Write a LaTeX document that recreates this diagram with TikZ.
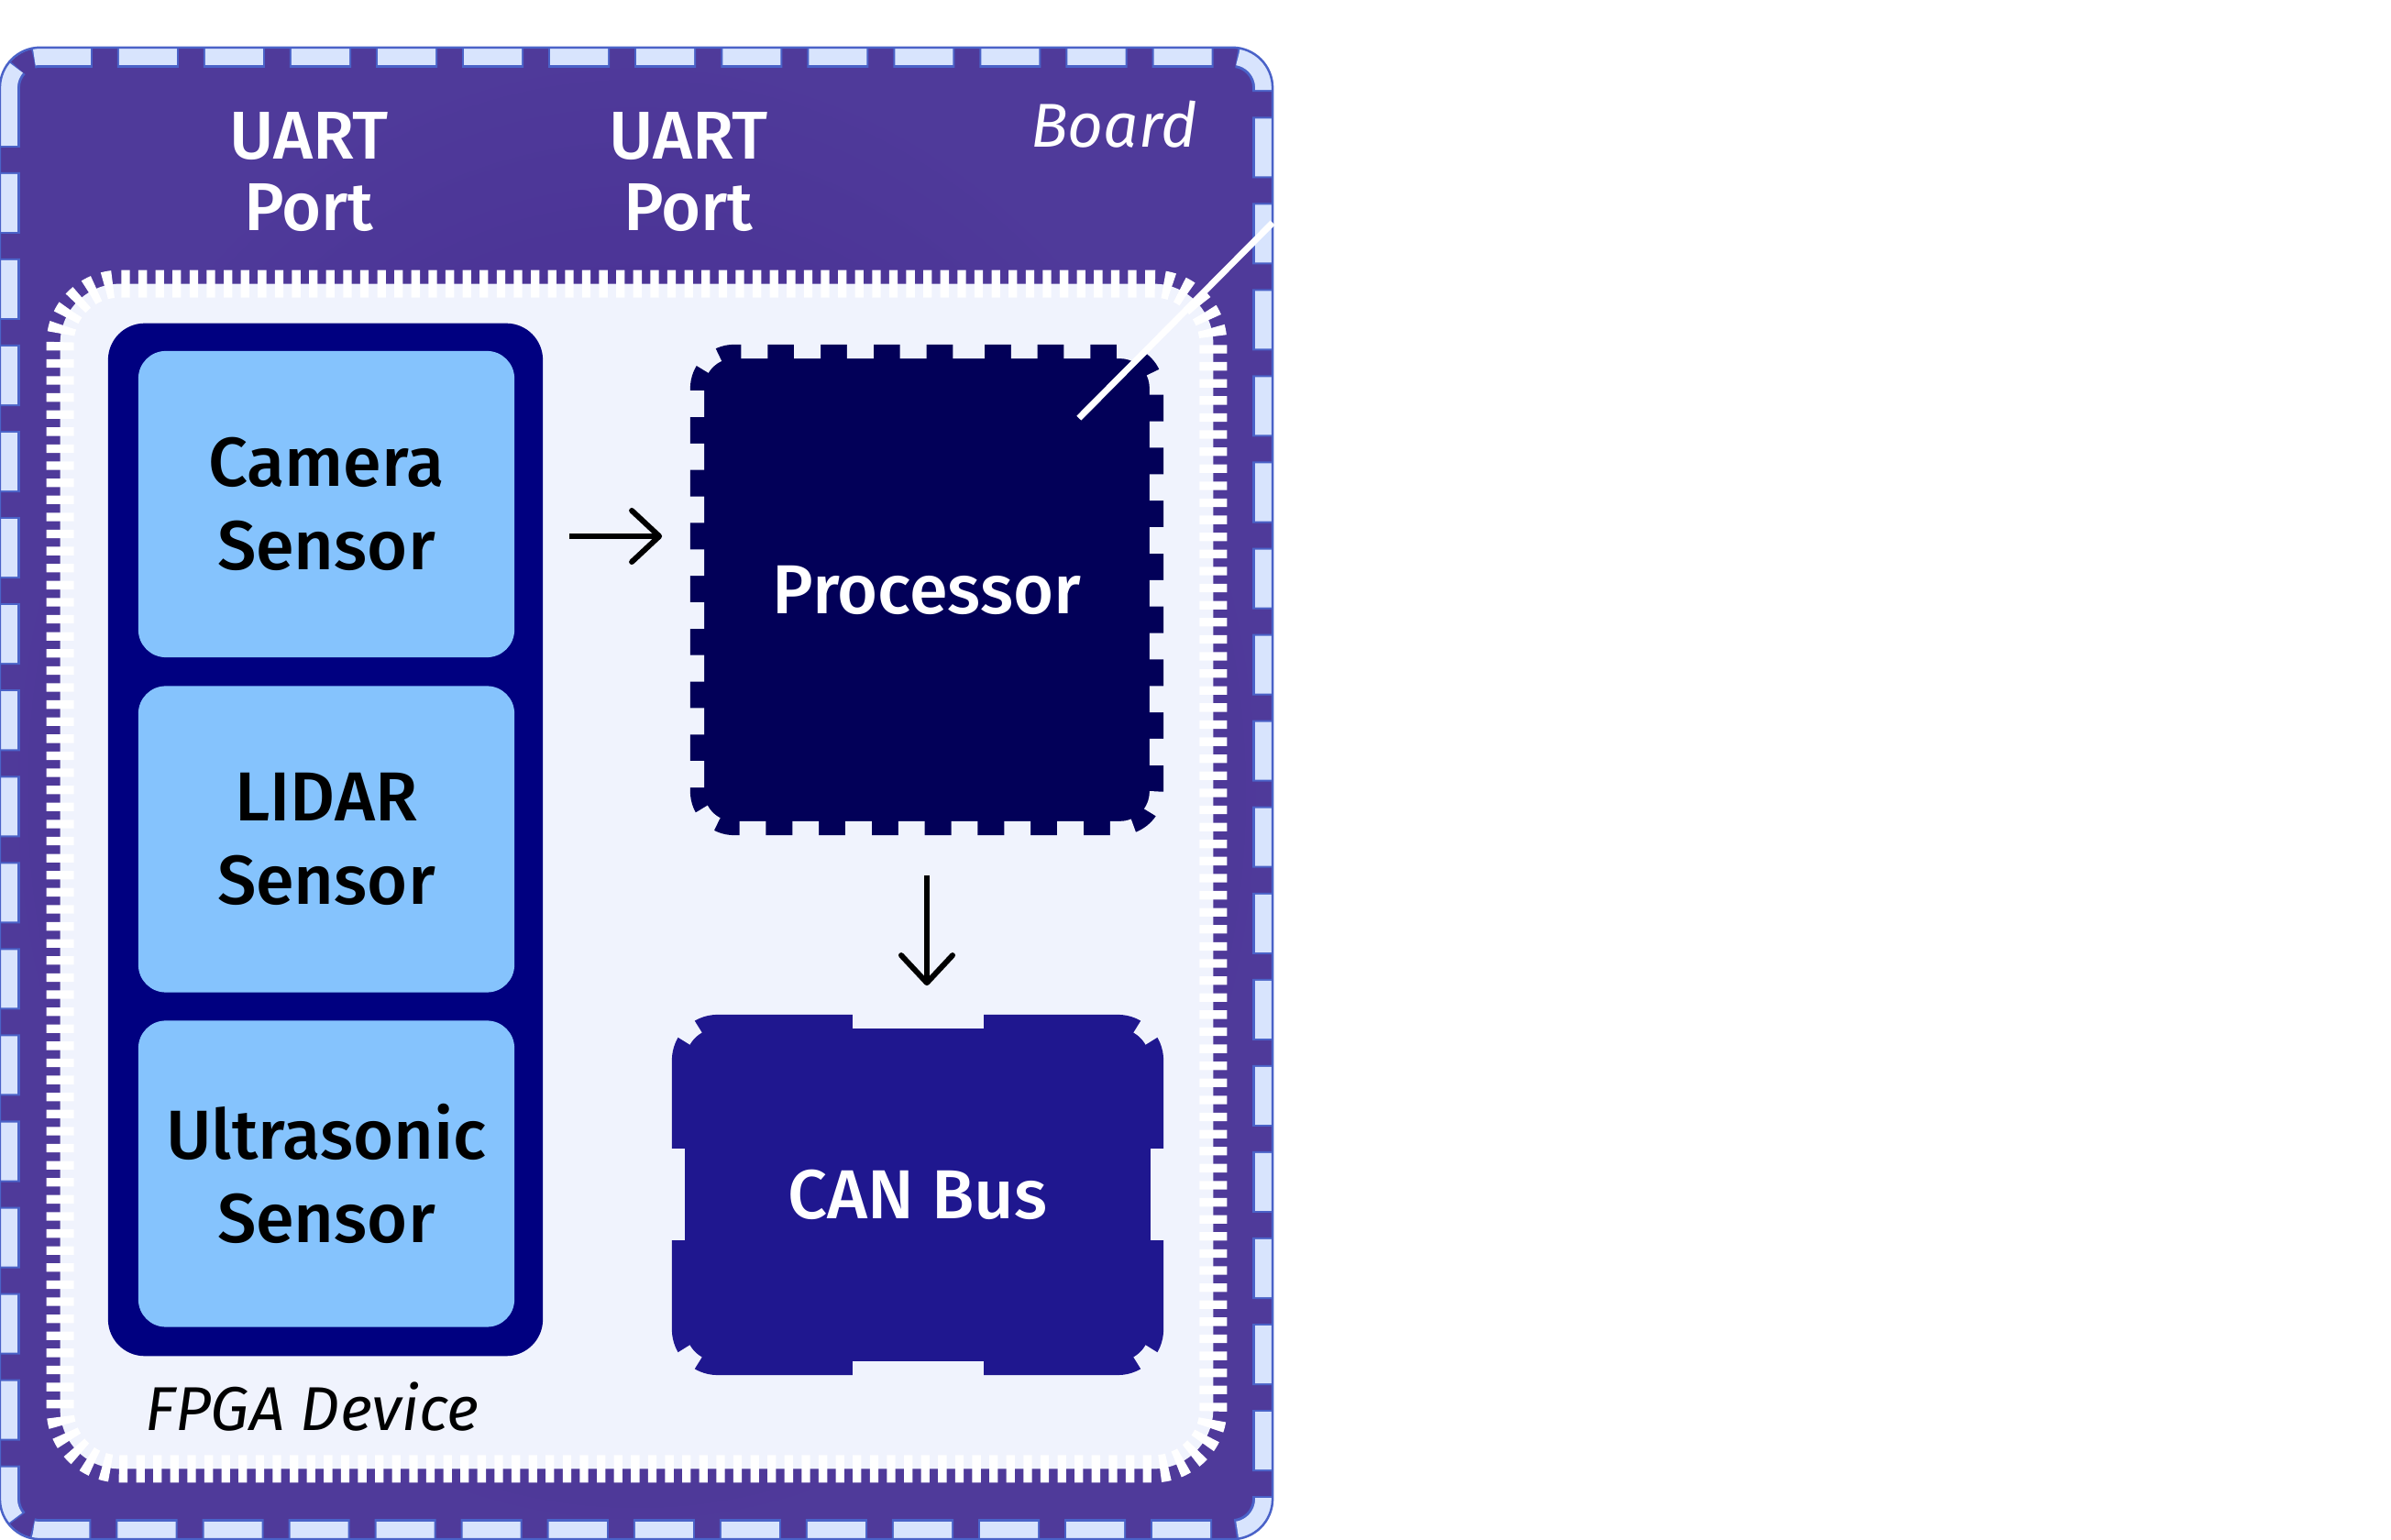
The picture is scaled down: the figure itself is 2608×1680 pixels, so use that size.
\documentclass[tikz,border=0pt]{standalone}
\usepackage{fontspec}
\setmainfont{Fira Sans}
\IfFontExistsTF{Fira Sans Medium}{\newfontfamily\labelface{Fira Sans Medium}}{\newcommand\labelface{\bfseries}}
\usepackage{tikz}
\usetikzlibrary{arrows.meta,calc}
\definecolor{boardin}{HTML}{43278E}
\definecolor{boardout}{HTML}{4F3A9A}
\definecolor{tabfill}{HTML}{D8E4FD}
\definecolor{tabedge}{HTML}{4A62C8}
\definecolor{fpgabg}{HTML}{F0F3FD}
\definecolor{grpfill}{HTML}{000080}
\definecolor{skyfill}{HTML}{85C3FD}
\definecolor{procfill}{HTML}{020058}
\definecolor{canfill}{HTML}{1F178F}

\tikzset{
  sensorbox/.style={fill=skyfill,rounded corners=0.3cm,minimum width=4.1cm,minimum height=3.34cm,
    inner sep=0pt,align=center,font=\labelface\fontsize{21.5}{25.8}\selectfont},
  darkbox/.style={rounded corners=0.48cm,inner sep=0pt,text=white,
    font=\labelface\fontsize{21.5}{25.8}\selectfont},
  portlbl/.style={text=white,align=center,font=\labelface\fontsize{21}{22.2}\selectfont},
  tag/.style={font=\itshape\fontsize{19.2}{23}\selectfont},
  notch/.style={draw=fpgabg,line width=0.32cm},
  flow/.style={-{Straight Barb[length=0.3cm,width=0.56cm,round]},line width=0.06cm}
}

\begin{document}
\begin{tikzpicture}[x=0.01cm,y=-0.01cm]
\useasboundingbox (0,0) rectangle (2608,1680);
\node[shade,shading=radial,inner color=boardin,outer color=boardout,rounded corners=0.44cm,
  minimum width=13.86cm,minimum height=16.25cm,inner sep=0pt] (board) at (694,865.5) {};
\begin{scope}
  \clip (board.north west) [rounded corners=0.44cm] rectangle (board.south east);
  \draw[tabedge,line width=0.44cm,dash pattern=on 0.67cm off 0.27cm,dash phase=0.02cm]
    (board.north west) [rounded corners=0.44cm] rectangle (board.south east);
  \draw[tabfill,line width=0.38cm,dash pattern=on 0.63cm off 0.31cm]
    (board.north west) [rounded corners=0.44cm] rectangle (board.south east);
\end{scope}
\draw[tabedge,line width=0.025cm] (board.north west) [rounded corners=0.44cm] rectangle (board.south east);

\node[portlbl] (uart1) at (337,187.5) {UART\\Port};
\node[portlbl] (uart2) at (751,187.5) {UART\\Port};
\node[tag,text=white,anchor=base east] (boardlbl) at (1318,161) {Board};

\node[fill=fpgabg,draw=white,line width=0.3cm,dash pattern=on 0.093cm off 0.093cm,
  rounded corners=0.65cm,minimum width=12.57cm,minimum height=12.92cm,inner sep=0pt] (fpga) at (694.5,956) {};
\node[tag,anchor=base west] (fpgalbl) at (146,1561) {FPGA Device};

\node[fill=grpfill,rounded corners=0.4cm,minimum width=4.74cm,minimum height=11.26cm,inner sep=0pt] (grp) at (355,916) {};
\node[sensorbox] (cam) at (356,550) {Camera\\Sensor};
\node[sensorbox] (lidar) at (356,915.5) {LIDAR\\Sensor};
\node[sensorbox] (ultra) at (356,1280.5) {Ultrasonic\\Sensor};

\node[darkbox,fill=procfill,minimum width=5.16cm,minimum height=5.35cm] (proc) at (1011,643.5) {Processor};
\draw[notch,dash pattern=on 0.2885cm off 0.2885cm,dash phase=0.14cm,rounded corners=0.48cm]
  (proc.north) -- (proc.north east) -- (proc.south east) -- (proc.south west) -- (proc.north west) -- cycle;

\node[darkbox,fill=canfill,rounded corners=0.5cm,minimum width=5.36cm,minimum height=3.93cm] (can) at (1001,1303.5) {CAN Bus};
\fill[fpgabg] ($(can.north)+(-71.5,-2)$) rectangle ($(can.north)+(71.5,16)$);
\fill[fpgabg] ($(can.south)+(-71.5,-16)$) rectangle ($(can.south)+(71.5,2)$);
\fill[fpgabg] ($(can.west)+(-2,-50)$) rectangle ($(can.west)+(15,50)$);
\fill[fpgabg] ($(can.east)+(-15,-50)$) rectangle ($(can.east)+(2,50)$);
\foreach \c/\dx/\dy/\a in {north west/50/50/210,north east/-50/50/300,south east/-50/-50/30,south west/50/-50/120}
  \draw[notch] ($(can.\c)+(\dx,\dy)$) ++(\a:50) arc[start angle=\a,end angle=\a+30,radius=50];

\draw[flow,shorten <=0.28cm,shorten >=0.3cm] (grp.east |- 0,585) -- (proc.west |- 0,585);
\draw[flow,shorten <=0.43cm,shorten >=0.31cm] (proc.south) -- (proc.south |- can.north);

\coordinate (leadin) at (board.east |- 0,243);
\coordinate (leadout) at ($(proc.north east)+(-93,81)$);
\draw[white,line width=0.07cm] (leadin) -- (leadout);
\end{tikzpicture}
\end{document}
